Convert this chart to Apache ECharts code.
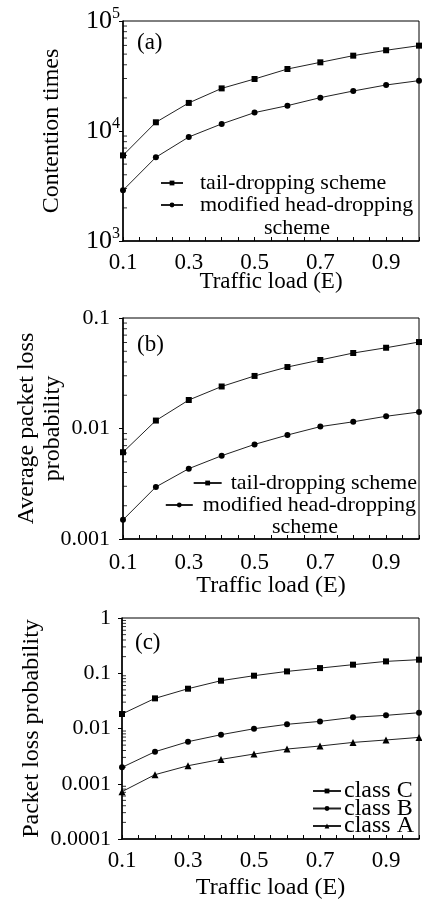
<!DOCTYPE html>
<html>
<head>
<meta charset="utf-8">
<script src="https://cdn.jsdelivr.net/npm/echarts@6/dist/echarts.min.js"></script>
<style>
html,body{margin:0;padding:0;background:#fff;}
#c{width:422px;height:905px;}
</style>
</head>
<body>
<div id="c"></div>
<script>
// ---- data ----
const loads = [0.1, 0.2, 0.3, 0.4, 0.5, 0.6, 0.7, 0.8, 0.9, 1.0];
const xTickLabels = ['0.1', '0.3', '0.5', '0.7', '0.9'];

// (a) contention times
const tailA = [6000, 12000, 18000, 24400, 29700, 36600, 42100, 48400, 54200, 59700];
const headA = [2890, 5770, 8820, 11600, 14700, 17000, 20100, 23100, 26200, 28700];
// (b) average packet loss probability
const tailB = [0.0061, 0.0118, 0.0181, 0.0240, 0.0299, 0.0360, 0.0417, 0.0482, 0.0538, 0.0606];
const headB = [0.00149, 0.00296, 0.00433, 0.00567, 0.00718, 0.00873, 0.0104, 0.0115, 0.0129, 0.0141];
// (c) packet loss probability per class
const classC = [0.0183, 0.0351, 0.0525, 0.0733, 0.0903, 0.108, 0.124, 0.143, 0.164, 0.176];
const classB = [0.00198, 0.0038, 0.00577, 0.00772, 0.0099, 0.0119, 0.01345, 0.0159, 0.0173, 0.0193];
const classA = [0.00072, 0.00146, 0.00212, 0.00276, 0.00345, 0.00425, 0.00482, 0.0056, 0.0062, 0.0069];

const yRangeA = [1e3, 1e5];
const yRangeB = [1e-3, 1e-1];
const yRangeC = [1e-4, 1];

const seriesNames = {
  tail: 'tail-dropping scheme',
  head: 'modified head-dropping scheme',
  C: 'class C', B: 'class B', A: 'class A'
};

// ---- helpers ----
const FONT = 'Liberation Serif';
function pairs(ys) { return loads.map((x, i) => [x, ys[i]]); }
function minorTicks(range) {
  const out = [];
  const e0 = Math.round(Math.log10(range[0])), e1 = Math.round(Math.log10(range[1]));
  for (let e = e0; e < e1; e++) for (let m = 2; m <= 9; m++) out.push([loads[0], m * Math.pow(10, e)]);
  return out;
}
function xAxisCfg(idx, gap, margin, nameSize) {
  return {
    type: 'value', gridIndex: idx, min: 0.1, max: 1.0, interval: 0.05,
    name: 'Traffic load (E)', nameLocation: 'middle', nameGap: gap, nameMoveOverlap: false,
    nameTextStyle: { fontFamily: FONT, fontSize: nameSize, color: '#000' },
    axisLine: { lineStyle: { color: '#000', width: 1.5 } },
    axisTick: { inside: true, length: 4, lineStyle: { color: '#000' } },
    splitLine: { show: false },
    axisLabel: {
      margin: margin, fontFamily: FONT, fontSize: 23, color: '#000',
      formatter: v => { const s = v.toFixed(1); return (xTickLabels.includes(s) && Math.abs(v * 10 - Math.round(v * 10)) < 1e-6) ? s : ''; }
    }
  };
}
function yAxisCfg(idx, range, name, gap, fmt, margin) {
  return {
    type: 'log', logBase: 10, gridIndex: idx, min: range[0], max: range[1],
    name: name, nameLocation: 'middle', nameGap: gap, nameMoveOverlap: false,
    nameTextStyle: { fontFamily: FONT, fontSize: 24, color: '#000', lineHeight: 26 },
    axisLine: { lineStyle: { color: '#000', width: 1.5 } },
    axisTick: { inside: false, length: 4, lineStyle: { color: '#000' } },
    splitLine: { show: false },
    axisLabel: {
      margin: margin, fontFamily: FONT, fontSize: 22, color: '#000', formatter: fmt,
      rich: {
        b: { fontFamily: FONT, fontSize: 26, color: '#000' },
        s: { fontFamily: FONT, fontSize: 16, color: '#000', padding: [0, 0, 14, 0] }
      }
    }
  };
}
function decFmt(v) { return String(Number(v.toPrecision(6))); }
function powFmt(v) { return '{b|10}{s|' + Math.round(Math.log10(v)) + '}'; }

function lineSeries(name, ys, idx, symbol, size) {
  return {
    type: 'line', name: name, xAxisIndex: idx, yAxisIndex: idx, data: pairs(ys),
    symbol: symbol, symbolSize: size, showSymbol: true,
    lineStyle: { color: '#222', width: 1 },
    itemStyle: { color: '#000' },
    emphasis: { disabled: true }, animation: false, clip: false
  };
}
function tickSeries(idx, range) {
  return {
    type: 'scatter', xAxisIndex: idx, yAxisIndex: idx, data: minorTicks(range),
    symbol: 'rect', symbolSize: [4, 1], symbolOffset: [2, 0],
    itemStyle: { color: '#000' }, silent: true, clip: false, animation: false, z: 5
  };
}

const gridBase = { show: true, borderColor: '#000', borderWidth: 1, left: 123, right: 1, containLabel: false };
const legendText = { fontFamily: FONT, fontSize: 22, color: '#000' };

const option = {
  animation: false,
  backgroundColor: '#fff',
  grid: [
    Object.assign({}, gridBase, { top: 21, height: 220 }),
    Object.assign({}, gridBase, { top: 318, height: 221 }),
    Object.assign({}, gridBase, { top: 618, height: 221, left: 122 })
  ],
  xAxis: [xAxisCfg(0, 29, 10, 23), xAxisCfg(1, 35, 12, 24), xAxisCfg(2, 37, 10, 24)],
  yAxis: [
    yAxisCfg(0, yRangeA, 'Contention times', 58, powFmt, 3),
    yAxisCfg(1, yRangeB, 'Average packet loss\nprobability', 57, decFmt, 13),
    yAxisCfg(2, yRangeC, 'Packet loss probability', 77, decFmt, 11)
  ],
  legend: [
    {
      left: 160, top: 172, padding: 0, orient: 'vertical', itemGap: 0, itemWidth: 22, itemHeight: 6,
      data: [seriesNames.tail, seriesNames.head],
      textStyle: Object.assign({ lineHeight: 22, padding: [0, 0, 0, 12] }, legendText),
      formatter: n => n === seriesNames.head ? 'modified head-dropping' : n,
      selectedMode: false
    },
    {
      right: 5, top: 472, padding: 0, orient: 'vertical', itemWidth: 28, itemHeight: 6,
      data: [seriesNames.tail],
      textStyle: Object.assign({ lineHeight: 22, padding: [0, 0, 0, 4] }, legendText),
      selectedMode: false
    },
    {
      right: 6, top: 494, padding: 0, orient: 'vertical', itemWidth: 27, itemHeight: 6,
      data: [seriesNames.head],
      textStyle: Object.assign({ lineHeight: 22, padding: [0, 0, 0, 5] }, legendText),
      formatter: () => 'modified head-dropping',
      selectedMode: false
    },
    {
      left: 312, top: 779, padding: 0, orient: 'vertical', itemGap: -6.5, itemWidth: 28, itemHeight: 6,
      data: [seriesNames.C, seriesNames.B, seriesNames.A],
      textStyle: { fontFamily: FONT, fontSize: 24, color: '#000', lineHeight: 22, padding: [0, 0, 0, -2] },
      selectedMode: false
    }
  ],
  graphic: [
    { type: 'text', left: 137, top: 31, style: { text: '(a)', font: '23px "Liberation Serif"', fill: '#000' } },
    { type: 'text', left: 137, top: 333, style: { text: '(b)', font: '23px "Liberation Serif"', fill: '#000' } },
    { type: 'text', left: 135, top: 631, style: { text: '(c)', font: '23px "Liberation Serif"', fill: '#000' } },
    { type: 'text', left: 264, top: 217, style: { text: 'scheme', font: '22px "Liberation Serif"', fill: '#000' } },
    { type: 'text', left: 272, top: 516, style: { text: 'scheme', font: '22px "Liberation Serif"', fill: '#000' } }
  ],
  series: [
    lineSeries(seriesNames.tail, tailA, 0, 'rect', 6),
    lineSeries(seriesNames.head, headA, 0, 'circle', 6),
    lineSeries(seriesNames.tail, tailB, 1, 'rect', 6),
    lineSeries(seriesNames.head, headB, 1, 'circle', 6),
    lineSeries(seriesNames.C, classC, 2, 'rect', 6),
    lineSeries(seriesNames.B, classB, 2, 'circle', 6),
    lineSeries(seriesNames.A, classA, 2, 'triangle', 7),
    tickSeries(0, yRangeA), tickSeries(1, yRangeB), tickSeries(2, yRangeC)
  ]
};

const chart = echarts.init(document.getElementById('c'), null, { renderer: 'canvas' });
chart.setOption(option);
</script>
</body>
</html>
